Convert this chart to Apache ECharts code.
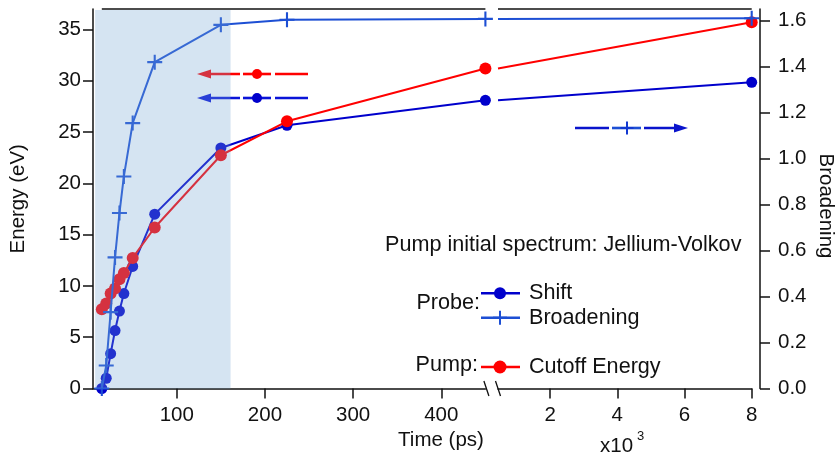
<!DOCTYPE html>
<html>
<head>
<meta charset="utf-8">
<script src="https://cdn.jsdelivr.net/npm/echarts@6/dist/echarts.min.js"></script>
<style>
html,body{margin:0;padding:0;background:#fff;}
#chart{width:837px;height:459px;}
</style>
</head>
<body>
<div id="chart"></div>
<script>
// ---- data ----
const times      = [15, 20, 25, 30, 35, 40, 50, 75, 150, 225, 450, 8000];   // ps
const shiftEv    = [0, 1.0, 3.4, 5.65, 7.55, 9.26, 11.9, 17.0, 23.45, 25.66, 28.1, 29.85];
const broadening = [0, 0.10, 0.332, 0.57, 0.763, 0.922, 1.154, 1.419, 1.581, 1.603, 1.607, 1.61];
const cutoffEv   = [7.73, 8.28, 9.26, 9.75, 10.65, 11.27, 12.73, 15.7, 22.74, 26.05, 31.2, 35.7];
const breakTime  = 450;
const leftTimeTicks  = [100, 200, 300, 400];
const rightTimeTicks = [2000, 4000, 6000, 8000];
const energyTicks    = [0, 5, 10, 15, 20, 25, 30, 35];
const broadTicks     = [0, 0.2, 0.4, 0.6, 0.8, 1.0, 1.2, 1.4, 1.6];
const shadeRange     = [7.4, 161];   // ps

const FONT = "'Liberation Sans', Arial, sans-serif";
const C_SHIFT = '#0000cc', C_BROAD = '#1d4fd4', C_CUT = '#ff0000';
const PLUS = 'path://M-1,-0.14 L1,-0.14 L1,0.14 L-1,0.14 Z M-0.14,-1 L0.14,-1 L0.14,1 L-0.14,1 Z';

function leftPart(vals){ const out=[]; times.forEach((t,i)=>{ if(t<=breakTime) out.push([t, vals[i]]); }); return out; }
function rightPart(vals){ const out=[]; times.forEach((t,i)=>{ if(t>=breakTime) out.push(t===breakTime?{value:[t, vals[i]], symbol:'none'}:[t, vals[i]]); }); return out; }

const axisLine = {show:true, lineStyle:{color:'#111', width:1.5}};
const tickStyle = {show:true, length:10, lineStyle:{color:'#111', width:1.5}};
const lbl = {color:'#111', fontSize:20.5, fontFamily:FONT};

function mk(name, vals, gi, yi, color, symbol, size, z, right){
  return {
    type:'line', name, xAxisIndex:gi, yAxisIndex:yi, z,
    data: right ? rightPart(vals) : leftPart(vals),
    symbol, symbolSize:size, showSymbol:true, clip:false,
    lineStyle:{color, width:2}, itemStyle:{color},
    emphasis:{disabled:true}, animation:false
  };
}

const chart = echarts.init(document.getElementById('chart'), null, {renderer:'canvas'});
const option = {
  animation:false,
  backgroundColor:'#fff',
  textStyle:{fontFamily:FONT},
  grid:[
    {left:93, top:9, width:392.4, height:379.5},
    {left:498, top:9, width:253.7, height:379.5}
  ],
  xAxis:[
    {gridIndex:0, type:'value', min:5, max:breakTime, axisLine, splitLine:{show:false},
     axisTick:{...tickStyle, customValues:leftTimeTicks},
     axisLabel:{...lbl, margin:16, customValues:leftTimeTicks}},
    {gridIndex:1, type:'value', min:breakTime, max:8000, axisLine, splitLine:{show:false},
     axisTick:{...tickStyle, customValues:rightTimeTicks},
     axisLabel:{...lbl, margin:16, customValues:rightTimeTicks, formatter:v=>String(v/1000)}}
  ],
  yAxis:[
    {gridIndex:0, type:'value', position:'left', min:0, max:37, axisLine, splitLine:{show:false},
     axisTick:{...tickStyle, customValues:energyTicks},
     axisLabel:{...lbl, margin:12, customValues:energyTicks},
     name:'Energy (eV)', nameLocation:'middle', nameGap:64,
     nameTextStyle:{color:'#111', fontSize:20.5, fontFamily:FONT}},
    {gridIndex:0, type:'value', position:'right', min:0, max:1.65, show:false},
    {gridIndex:1, type:'value', position:'left', min:0, max:37, show:false},
    {gridIndex:1, type:'value', position:'right', min:0, max:1.65, offset:8.3, axisLine, splitLine:{show:false},
     axisTick:{...tickStyle, customValues:broadTicks},
     axisLabel:{...lbl, margin:18, customValues:broadTicks, formatter:v=>v.toFixed(1)}}
  ],
  series:[
    mk('Shift', shiftEv, 0, 0, C_SHIFT, 'circle', 11, 3, false),
    mk('Cutoff Energy', cutoffEv, 0, 0, C_CUT, 'circle', 12, 4, false),
    mk('Broadening', broadening, 0, 1, C_BROAD, PLUS, 15, 5, false),
    mk('Shift', shiftEv, 1, 2, C_SHIFT, 'circle', 11, 3, true),
    mk('Cutoff Energy', cutoffEv, 1, 2, C_CUT, 'circle', 12, 4, true),
    mk('Broadening', broadening, 1, 3, C_BROAD, PLUS, 15, 5, true)
  ]
};
chart.setOption(option);

// ---- decorations placed through the axes' own scales ----
const px = (xi, v) => chart.convertToPixel({xAxisIndex:xi}, v);
const py = (yi, v) => chart.convertToPixel({yAxisIndex:yi}, v);
const yBottom = py(0, 0), yTop = py(0, 37);
const g = [];
// shading overlay (translucent, on top of traces)
g.push({type:'rect', z:100, silent:true,
  shape:{x:px(0, shadeRange[0]), y:yTop+1, width:px(0, shadeRange[1])-px(0, shadeRange[0]), height:yBottom-yTop-1},
  style:{fill:'rgba(117,164,211,0.3)'}});
// top frame lines
g.push({type:'line', z:50, shape:{x1:px(0, times[0]), y1:yTop, x2:px(0, breakTime), y2:yTop}, style:{stroke:'#111', lineWidth:1.5}});
g.push({type:'line', z:50, shape:{x1:px(1, breakTime), y1:yTop, x2:px(1, 8000), y2:yTop}, style:{stroke:'#111', lineWidth:1.5}});
// axis break marks
[px(0, breakTime)+1, px(1, breakTime)].forEach(x=>{
  g.push({type:'line', z:50, shape:{x1:x-2.5, y1:yBottom-7.5, x2:x+2.5, y2:yBottom+7.5}, style:{stroke:'#111', lineWidth:1.3}});
});

// arrows pointing to the axes
function dashes(y, segs, color, w){
  segs.forEach(s=>g.push({type:'line', z:60, shape:{x1:s[0], y1:y, x2:s[1], y2:y}, style:{stroke:color, lineWidth:w}}));
}
function head(x, y, dir, color){
  g.push({type:'polygon', z:60, shape:{points:[[x,y],[x-dir*14,y-4.5],[x-dir*14,y+4.5]]}, style:{fill:color}});
}
function plus(x, y, s, color){
  g.push({type:'line', z:61, shape:{x1:x-s, y1:y, x2:x+s, y2:y}, style:{stroke:color, lineWidth:2}});
  g.push({type:'line', z:61, shape:{x1:x, y1:y-s, x2:x, y2:y+s}, style:{stroke:color, lineWidth:2}});
}
dashes(74, [[205,240],[243,271],[275,308]], C_CUT, 2.6); head(197, 74, -1, C_CUT);
g.push({type:'circle', z:61, shape:{cx:257, cy:74, r:5}, style:{fill:C_CUT}});
dashes(98, [[205,240],[243,271],[275,308]], '#0a14d8', 2.6); head(197, 98, -1, '#0a14d8');
g.push({type:'circle', z:61, shape:{cx:257, cy:98, r:5}, style:{fill:C_SHIFT}});
dashes(128, [[575,609],[644,680]], '#0a14cc', 2.6);
dashes(128, [[612,641]], C_BROAD, 2.6); head(688, 128, 1, '#0a14cc');
plus(627, 128, 6.5, '#1238d0');

// texts
const T = (text, x, y, align, size, rot) => g.push({type:'text', z:70, x, y, rotation:rot||0,
  style:{text, fill:'#111', font:(size||21.6)+'px '+FONT, textAlign:align||'left', textVerticalAlign:'middle'}});
T('Pump initial spectrum: Jellium-Volkov', 385, 245);
T('Probe:', 480, 303, 'right');
T('Shift', 529, 293);
T('Broadening', 529, 318);
T('Pump:', 478, 365, 'right');
T('Cutoff Energy', 529, 367);
T('Time (ps)', 441, 440, 'center', 20.5);
T('x10', 600, 446, 'left', 20.5);
T('3', 637, 436, 'left', 13);
T('Broadening', 826, 206, 'center', 20.5, -Math.PI/2);
// legend glyphs
g.push({type:'line', z:60, shape:{x1:481, y1:293.3, x2:520, y2:293.3}, style:{stroke:C_SHIFT, lineWidth:2.5}});
g.push({type:'circle', z:61, shape:{cx:500, cy:293.3, r:6}, style:{fill:C_SHIFT}});
g.push({type:'line', z:60, shape:{x1:481, y1:317.7, x2:520, y2:317.7}, style:{stroke:C_BROAD, lineWidth:2.5}});
plus(500, 317.7, 7, C_BROAD);
g.push({type:'line', z:60, shape:{x1:481, y1:367, x2:520, y2:367}, style:{stroke:C_CUT, lineWidth:2.5}});
g.push({type:'circle', z:61, shape:{cx:500, cy:367, r:6.5}, style:{fill:C_CUT}});

chart.setOption({graphic:{elements:g}});
</script>
</body>
</html>
